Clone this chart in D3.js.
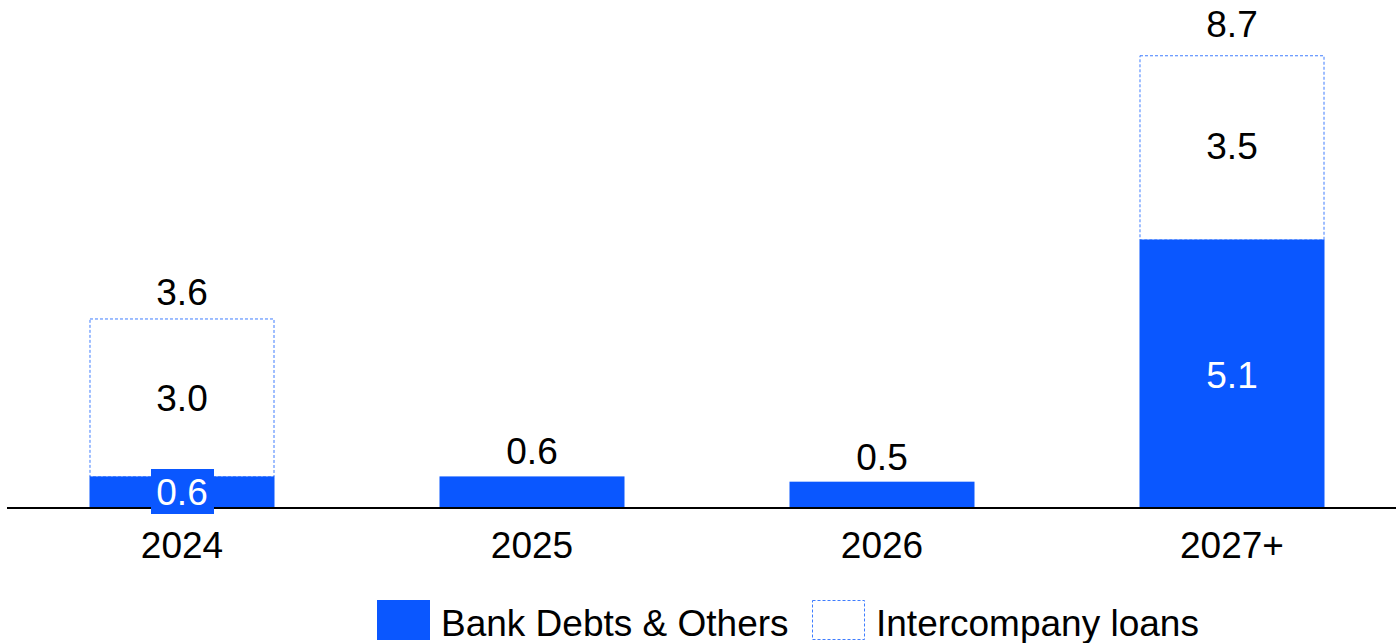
<!DOCTYPE html>
<html>
<head>
<meta charset="utf-8">
<script src="https://cdn.jsdelivr.net/npm/d3@7/dist/d3.min.js"></script>
<style>
  html, body { margin: 0; padding: 0; background: #fff; }
  svg { display: block; font-family: "Liberation Sans", Arial, sans-serif; }
</style>
</head>
<body>
<svg id="chart" width="1396" height="643"></svg>
<script>
// Debt maturity profile (bn)
const years = ["2024", "2025", "2026", "2027+"];
const bankDebts = [0.6, 0.6, 0.5, 5.1];
const intercompany = [3.0, 0, 0, 3.5];
const totals = [3.6, 0.6, 0.5, 8.7];
const seriesNames = ["Bank Debts & Others", "Intercompany loans"];

const W = 1396, H = 643;
const blue = "#0a57ff";
const dotBlue = "#3f7dff";
const fs = 37;
const svg = d3.select("#chart");

const x = d3.scaleBand()
  .domain(years)
  .range([7, 1407])
  .paddingInner(0.4714)
  .paddingOuter(0.2357);

const y = d3.scaleLinear().domain([0, 8.7]).range([508, 50]);

const rows = years.map((yr, i) => ({
  year: yr, bank: bankDebts[i], inter: intercompany[i], total: totals[i]
}));

// Intercompany loans: dotted outline stacked on top of bank debts
svg.append("g").selectAll("rect")
  .data(rows.filter(d => d.inter > 0))
  .join("rect")
  .attr("x", d => x(d.year) + 0.5)
  .attr("y", d => y(d.bank + d.inter) + 0.5)
  .attr("width", x.bandwidth() - 1)
  .attr("height", d => y(d.bank) - y(d.bank + d.inter))
  .attr("fill", "none")
  .attr("stroke", dotBlue)
  .attr("stroke-width", 1)
  .attr("stroke-dasharray", "3,2");

// Bank debts bars
svg.append("g").selectAll("rect")
  .data(rows)
  .join("rect")
  .attr("x", d => x(d.year))
  .attr("y", d => y(d.bank))
  .attr("width", x.bandwidth())
  .attr("height", d => y(0) - y(d.bank))
  .attr("fill", blue);

// Baseline
svg.append("line")
  .attr("x1", 7).attr("x2", W)
  .attr("y1", y(0)).attr("y2", y(0))
  .attr("stroke", "#000").attr("stroke-width", 2);

// Category axis labels
const xAxis = d3.axisBottom(x).tickSize(0).tickPadding(0);
const gx = svg.append("g").attr("transform", `translate(0,${y(0)})`).call(xAxis);
gx.select(".domain").remove();
gx.selectAll("text")
  .attr("dy", null)
  .attr("y", 50)
  .attr("font-size", fs)
  .attr("font-family", "Liberation Sans, Arial, sans-serif")
  .attr("fill", "#000");

// Value labels
rows.forEach(d => {
  const cx = x(d.year) + x.bandwidth() / 2;
  if (d.inter > 0) {
    // total above stack
    svg.append("text").attr("x", cx).attr("y", y(d.total) - 13)
      .attr("text-anchor", "middle").attr("font-size", fs).attr("fill", "#000")
      .text(d.total.toFixed(1));
    // intercompany segment label
    svg.append("text").attr("x", cx).attr("y", (y(d.total) + y(d.bank)) / 2 + 14)
      .attr("text-anchor", "middle").attr("font-size", fs).attr("fill", "#000")
      .text(d.inter.toFixed(1));
    // bank segment label (white inside bar)
    if (y(0) - y(d.bank) < 45) {
      svg.append("rect").attr("x", cx - 31).attr("y", 469)
        .attr("width", 63).attr("height", 45).attr("fill", blue);
      svg.append("text").attr("x", cx).attr("y", 505)
        .attr("text-anchor", "middle").attr("font-size", fs).attr("fill", "#fff")
        .text(d.bank.toFixed(1));
    } else {
      svg.append("text").attr("x", cx).attr("y", (y(d.bank) + y(0)) / 2 + 14)
        .attr("text-anchor", "middle").attr("font-size", fs).attr("fill", "#fff")
        .text(d.bank.toFixed(1));
    }
  } else {
    svg.append("text").attr("x", cx).attr("y", y(d.bank) - 12)
      .attr("text-anchor", "middle").attr("font-size", fs).attr("fill", "#000")
      .text(d.bank.toFixed(1));
  }
});

// Legend
const legend = svg.append("g");
legend.append("rect").attr("x", 377).attr("y", 600).attr("width", 53).attr("height", 40).attr("fill", blue);
legend.append("text").attr("x", 441).attr("y", 636).attr("font-size", fs).attr("fill", "#000").text(seriesNames[0]);
legend.append("rect").attr("x", 812.5).attr("y", 600.5).attr("width", 52).attr("height", 39)
  .attr("fill", "none").attr("stroke", dotBlue).attr("stroke-width", 1).attr("stroke-dasharray", "3,2");
legend.append("text").attr("x", 876).attr("y", 636).attr("font-size", fs).attr("fill", "#000").text(seriesNames[1]);
</script>
</body>
</html>
